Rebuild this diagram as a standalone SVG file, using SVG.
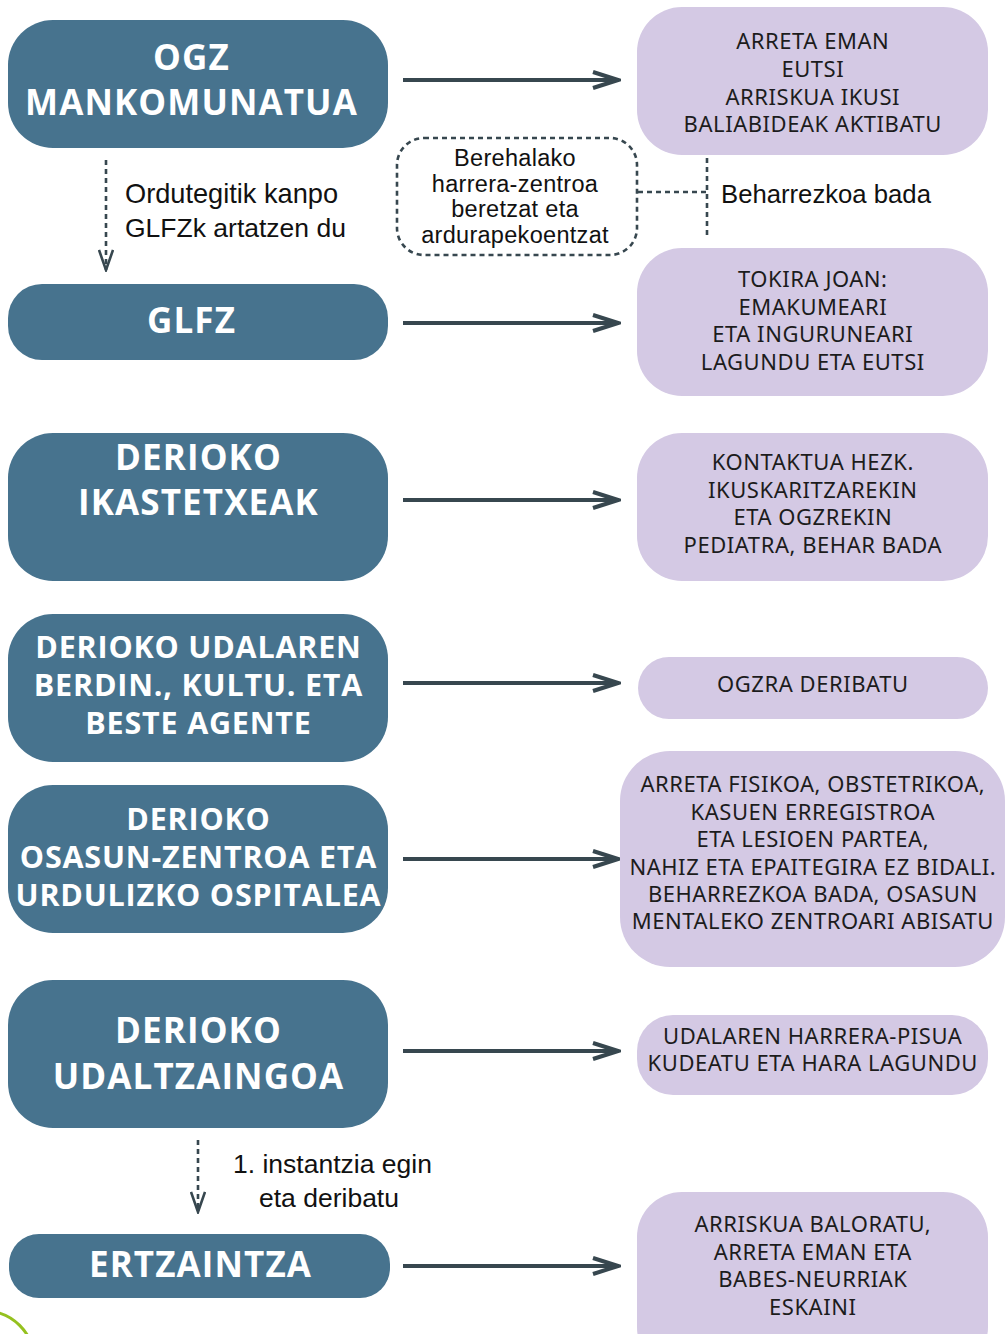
<svg xmlns="http://www.w3.org/2000/svg" width="1005" height="1334" viewBox="0 0 1005 1334">
<defs>
<style>
.lb{fill:#47738e}
.rb{fill:#d4c9e4}
.lt{font-family:"Open Sans","Noto Sans",sans-serif;font-weight:700;fill:#ffffff;text-anchor:middle}
.big{font-size:35px;letter-spacing:1.1px}
.mid{font-size:30.5px;letter-spacing:0.8px}
.rt{font-family:"Noto Sans","Open Sans",sans-serif;font-size:22px;letter-spacing:0.55px;fill:#1c1c1c;text-anchor:middle}
.lab{font-family:"Liberation Sans",Arial,sans-serif;font-size:26.5px;fill:#111111}
.dl{font-family:"Liberation Sans",Arial,sans-serif;font-size:23.5px;letter-spacing:0.3px;fill:#111111;text-anchor:middle}
.arr{stroke:#37474f;stroke-width:4;fill:none}
.dash{stroke:#37474f;stroke-width:2.6;fill:none;stroke-dasharray:5 4}
</style>
<marker id="ah" viewBox="0 0 30 20" refX="27" refY="10" markerWidth="30" markerHeight="20" markerUnits="userSpaceOnUse" orient="auto">
<path d="M2,2 L27,10 L2,18" fill="none" stroke="#37474f" stroke-width="4"/>
</marker>
<marker id="dh" viewBox="0 0 16 24" refX="8" refY="22" markerWidth="16" markerHeight="24" markerUnits="userSpaceOnUse" orient="0">
<path d="M1,2 L8,22 L15,2" fill="none" stroke="#37474f" stroke-width="2.6"/>
</marker>
</defs>
<rect width="1005" height="1334" fill="#ffffff"/>

<g id="connectors">
<line class="arr" x1="403" y1="80" x2="618" y2="80" marker-end="url(#ah)"/>
<line class="arr" x1="403" y1="323" x2="618" y2="323" marker-end="url(#ah)"/>
<line class="arr" x1="403" y1="500" x2="618" y2="500" marker-end="url(#ah)"/>
<line class="arr" x1="403" y1="683" x2="618" y2="683" marker-end="url(#ah)"/>
<line class="arr" x1="403" y1="859" x2="618" y2="859" marker-end="url(#ah)"/>
<line class="arr" x1="403" y1="1051" x2="618" y2="1051" marker-end="url(#ah)"/>
<line class="arr" x1="403" y1="1266" x2="618" y2="1266" marker-end="url(#ah)"/>
<line class="dash" x1="106" y1="160" x2="106" y2="270" marker-end="url(#dh)"/>
<line class="dash" x1="198" y1="1140" x2="198" y2="1212" marker-end="url(#dh)"/>
<line class="dash" x1="638" y1="192" x2="707" y2="192"/>
<line class="dash" x1="707" y1="158" x2="707" y2="237"/>
<text class="lab" x="125" y="203" style="font-size:27.2px">Ordutegitik kanpo</text>
<text class="lab" x="125" y="237">GLFZk artatzen du</text>
<text class="lab" x="721" y="203" style="font-size:25.7px">Beharrezkoa bada</text>
<text class="lab" x="233" y="1173">1. instantzia egin</text>
<text class="lab" x="259" y="1207">eta deribatu</text>
</g>

<g id="n-ogz">
<rect class="lb" x="8" y="20" width="380" height="128" rx="45"/>
<text class="lt big" x="191.5" y="70">OGZ</text>
<text class="lt big" x="191.5" y="115">MANKOMUNATUA</text>
</g>
<g id="n-glfz">
<rect class="lb" x="8" y="284" width="380" height="76" rx="34"/>
<text class="lt big" x="191.5" y="333">GLFZ</text>
</g>
<g id="n-ikastetxeak">
<rect class="lb" x="8" y="433" width="380" height="148" rx="45"/>
<text class="lt big" x="198.5" y="470">DERIOKO</text>
<text class="lt big" x="198.5" y="515">IKASTETXEAK</text>
</g>
<g id="n-udala">
<rect class="lb" x="8" y="614" width="380" height="148" rx="45"/>
<text class="lt mid" x="198.5" y="658">DERIOKO UDALAREN</text>
<text class="lt mid" x="198.5" y="696">BERDIN., KULTU. ETA</text>
<text class="lt mid" x="198.5" y="734">BESTE AGENTE</text>
</g>
<g id="n-osasun">
<rect class="lb" x="8" y="785" width="380" height="148" rx="45"/>
<text class="lt mid" x="198.5" y="830">DERIOKO</text>
<text class="lt mid" x="198.5" y="868">OSASUN-ZENTROA ETA</text>
<text class="lt mid" x="198.5" y="906">URDULIZKO OSPITALEA</text>
</g>
<g id="n-udaltzaingoa">
<rect class="lb" x="8" y="980" width="380" height="148" rx="45"/>
<text class="lt big" x="198.5" y="1043">DERIOKO</text>
<text class="lt big" x="198.5" y="1089">UDALTZAINGOA</text>
</g>
<g id="n-ertzaintza">
<rect class="lb" x="9" y="1234" width="381" height="64" rx="30"/>
<text class="lt big" x="200.5" y="1277">ERTZAINTZA</text>
</g>

<g id="n-harrera">
<rect x="397" y="138" width="240" height="117" rx="27" fill="none" stroke="#37474f" stroke-width="2.6" stroke-dasharray="5 4"/>
<text class="dl" x="515" y="166">Berehalako</text>
<text class="dl" x="515" y="192">harrera-zentroa</text>
<text class="dl" x="515" y="217">beretzat eta</text>
<text class="dl" x="515" y="243">ardurapekoentzat</text>
</g>

<g id="r1">
<rect class="rb" x="637" y="7" width="351" height="148" rx="45"/>
<text class="rt" x="812.8" y="49">ARRETA EMAN</text>
<text class="rt" x="812.8" y="77">EUTSI</text>
<text class="rt" x="812.8" y="105">ARRISKUA IKUSI</text>
<text class="rt" x="812.8" y="132">BALIABIDEAK AKTIBATU</text>
</g>
<g id="r2">
<rect class="rb" x="637" y="248" width="351" height="148" rx="45"/>
<text class="rt" x="812.8" y="287">TOKIRA JOAN:</text>
<text class="rt" x="812.8" y="315">EMAKUMEARI</text>
<text class="rt" x="812.8" y="342">ETA INGURUNEARI</text>
<text class="rt" x="812.8" y="370">LAGUNDU ETA EUTSI</text>
</g>
<g id="r3">
<rect class="rb" x="637" y="433" width="351" height="148" rx="45"/>
<text class="rt" x="812.8" y="470">KONTAKTUA HEZK.</text>
<text class="rt" x="812.8" y="498">IKUSKARITZAREKIN</text>
<text class="rt" x="812.8" y="525">ETA OGZREKIN</text>
<text class="rt" x="812.8" y="553">PEDIATRA, BEHAR BADA</text>
</g>
<g id="r4">
<rect class="rb" x="638" y="657" width="350" height="62" rx="31"/>
<text class="rt" x="812.8" y="692">OGZRA DERIBATU</text>
</g>
<g id="r5">
<rect class="rb" x="620" y="751" width="385" height="216" rx="50"/>
<text class="rt" x="812.8" y="792">ARRETA FISIKOA, OBSTETRIKOA,</text>
<text class="rt" x="812.8" y="820">KASUEN ERREGISTROA</text>
<text class="rt" x="812.8" y="847">ETA LESIOEN PARTEA,</text>
<text class="rt" x="812.8" y="875">NAHIZ ETA EPAITEGIRA EZ BIDALI.</text>
<text class="rt" x="812.8" y="902">BEHARREZKOA BADA, OSASUN</text>
<text class="rt" x="812.8" y="929">MENTALEKO ZENTROARI ABISATU</text>
</g>
<g id="r6">
<rect class="rb" x="637" y="1015" width="351" height="80" rx="36"/>
<text class="rt" x="812.8" y="1044">UDALAREN HARRERA-PISUA</text>
<text class="rt" x="812.8" y="1071">KUDEATU ETA HARA LAGUNDU</text>
</g>
<g id="r7">
<rect class="rb" x="637" y="1192" width="351" height="180" rx="45"/>
<text class="rt" x="812.8" y="1232">ARRISKUA BALORATU,</text>
<text class="rt" x="812.8" y="1260">ARRETA EMAN ETA</text>
<text class="rt" x="812.8" y="1287">BABES-NEURRIAK</text>
<text class="rt" x="812.8" y="1315">ESKAINI</text>
</g>

<circle cx="-15" cy="1360" r="49" fill="none" stroke="#95c11f" stroke-width="3"/>
</svg>
